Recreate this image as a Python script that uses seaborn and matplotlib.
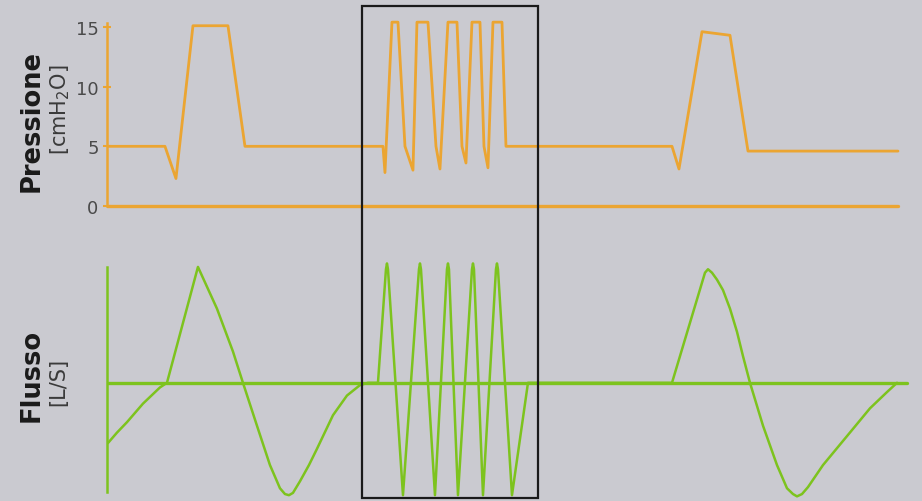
import pandas as pd
import seaborn as sns
from matplotlib import pyplot as plt
from matplotlib.patches import Rectangle
from matplotlib.transforms import blended_transform_factory

# pressure trace (time in s, cmH2O)
pres_t = [0.00, 0.58, 0.69, 0.86, 1.21, 1.38, 2.76, 2.78, 2.85, 2.91, 2.98, 3.06,
          3.10, 3.21, 3.29, 3.33, 3.41, 3.50, 3.55, 3.59, 3.65, 3.73, 3.77, 3.81,
          3.86, 3.95, 3.99, 5.65, 5.72, 5.95, 6.23, 6.41, 7.91]
pres_v = [5.0, 5.0, 2.3, 15.1, 15.1, 5.0, 5.0, 2.8, 15.4, 15.4, 5.0, 3.0,
          15.4, 15.4, 5.0, 3.1, 15.4, 15.4, 5.0, 3.6, 15.4, 15.4, 5.0, 3.2,
          15.4, 15.4, 5.0, 5.0, 3.1, 14.6, 14.3, 4.6, 4.6]

# flow trace (time in s, L/s)
flow_t = [0.01, 0.10, 0.20, 0.36, 0.53, 0.60, 0.91, 1.10, 1.26, 1.36, 1.50,
          1.63, 1.73, 1.78, 1.82, 1.86, 1.93, 2.02, 2.10, 2.26, 2.40, 2.53, 2.61, 2.71,
          2.79, 2.80, 2.81, 2.96, 3.12, 3.13, 3.14, 3.28, 3.40, 3.41, 3.42, 3.51,
          3.65, 3.66, 3.67, 3.76, 3.89, 3.90, 3.91, 4.05, 4.21, 5.65,
          5.98, 6.01, 6.05, 6.10, 6.16, 6.23, 6.30, 6.36, 6.43, 6.56, 6.70, 6.80,
          6.86, 6.90, 6.95, 7.01, 7.16, 7.40, 7.63, 7.80, 7.90]
flow_v = [-0.52, -0.43, -0.34, -0.18, -0.04, 0.0, 1.0, 0.64, 0.27, 0.0, -0.37,
          -0.71, -0.91, -0.96, -0.97, -0.95, -0.85, -0.71, -0.57, -0.28, -0.11, -0.02, 0.0, 0.0,
          0.98, 1.03, 0.98, -0.97, 0.98, 1.03, 0.98, -0.97, 0.98, 1.03, 0.98, -0.97,
          0.98, 1.03, 0.98, -0.97, 0.98, 1.03, 0.98, -0.97, 0.0, 0.0,
          0.95, 0.98, 0.95, 0.89, 0.80, 0.64, 0.44, 0.23, 0.0, -0.37, -0.71, -0.91,
          -0.96, -0.98, -0.96, -0.90, -0.71, -0.46, -0.22, -0.08, 0.0]

pres_tick_values = [0, 5, 10, 15]
pres_zero_end = 7.91
flow_zero_end = 8.00
hfv_start, hfv_end = 2.55, 4.31

orange = "#eba532"
green = "#7dc31e"
paper = "#cacad0"

sns.set_theme(style="white")
plt.rcParams["font.family"] = ["DejaVu Sans"]

fig = plt.figure(figsize=(9.22, 5.02), dpi=100, facecolor=paper)
ax_p = fig.add_axes([0.116, 0.571, 0.884, 0.390])
ax_f = fig.add_axes([0.116, 0.0, 0.884, 0.494])

pres_df = pd.DataFrame({"t": pres_t, "p": pres_v})
flow_df = pd.DataFrame({"t": flow_t, "f": flow_v})

sns.lineplot(data=pd.DataFrame({"t": [0, pres_zero_end], "p": [0, 0]}), x="t", y="p",
             ax=ax_p, color=orange, lw=2.4, estimator=None)
sns.lineplot(data=pres_df, x="t", y="p", ax=ax_p, color=orange, lw=2.0,
             estimator=None, sort=False)
sns.lineplot(data=pd.DataFrame({"t": [0, flow_zero_end], "f": [0, 0]}), x="t", y="f",
             ax=ax_f, color=green, lw=2.4, estimator=None)
sns.lineplot(data=flow_df, x="t", y="f", ax=ax_f, color=green, lw=1.8,
             estimator=None, sort=False)

for ax in (ax_p, ax_f):
    ax.set_facecolor("none")
    ax.set_xlim(0, 8.15)
    ax.set_xticks([])
    ax.set_xlabel("")
    ax.set_ylabel("")
    for side in ("top", "right", "bottom"):
        ax.spines[side].set_visible(False)

ax_p.set_ylim(-0.7, 15.7)
ax_p.spines["left"].set_color(orange)
ax_p.spines["left"].set_linewidth(1.8)
ax_p.spines["left"].set_bounds(0, 15.3)
ax_p.set_yticks(pres_tick_values)
ax_p.tick_params(axis="y", direction="inout", length=6, width=1.5, color=orange,
                 labelcolor="#4a4a4a", labelsize=13, pad=3, left=True)

ax_f.set_ylim(-1.02, 1.12)
ax_f.spines["left"].set_color(green)
ax_f.spines["left"].set_linewidth(1.8)
ax_f.spines["left"].set_bounds(-0.94, 1.0)
ax_f.set_yticks([])

# box around the high-frequency segment, spanning both panels
trans = blended_transform_factory(ax_f.transData, fig.transFigure)
fig.add_artist(Rectangle((hfv_start, 0.006), hfv_end - hfv_start, 0.980,
                         transform=trans, fill=False, edgecolor="#1a1a1a", lw=1.6))

fig.text(0.034, 0.759, "Pressione", rotation=90, ha="center", va="center",
         fontsize=18.5, fontweight="bold", color="#1a1a1a")
fig.text(0.065, 0.781, "[cmH$_2$O]", rotation=90, ha="center", va="center",
         fontsize=15, color="#3a3a3a")
fig.text(0.034, 0.253, "Flusso", rotation=90, ha="center", va="center",
         fontsize=18.5, fontweight="bold", color="#1a1a1a")
fig.text(0.063, 0.239, "[L/S]", rotation=90, ha="center", va="center",
         fontsize=15, color="#3a3a3a")

fig.savefig("out.png", dpi=100, facecolor=paper)
